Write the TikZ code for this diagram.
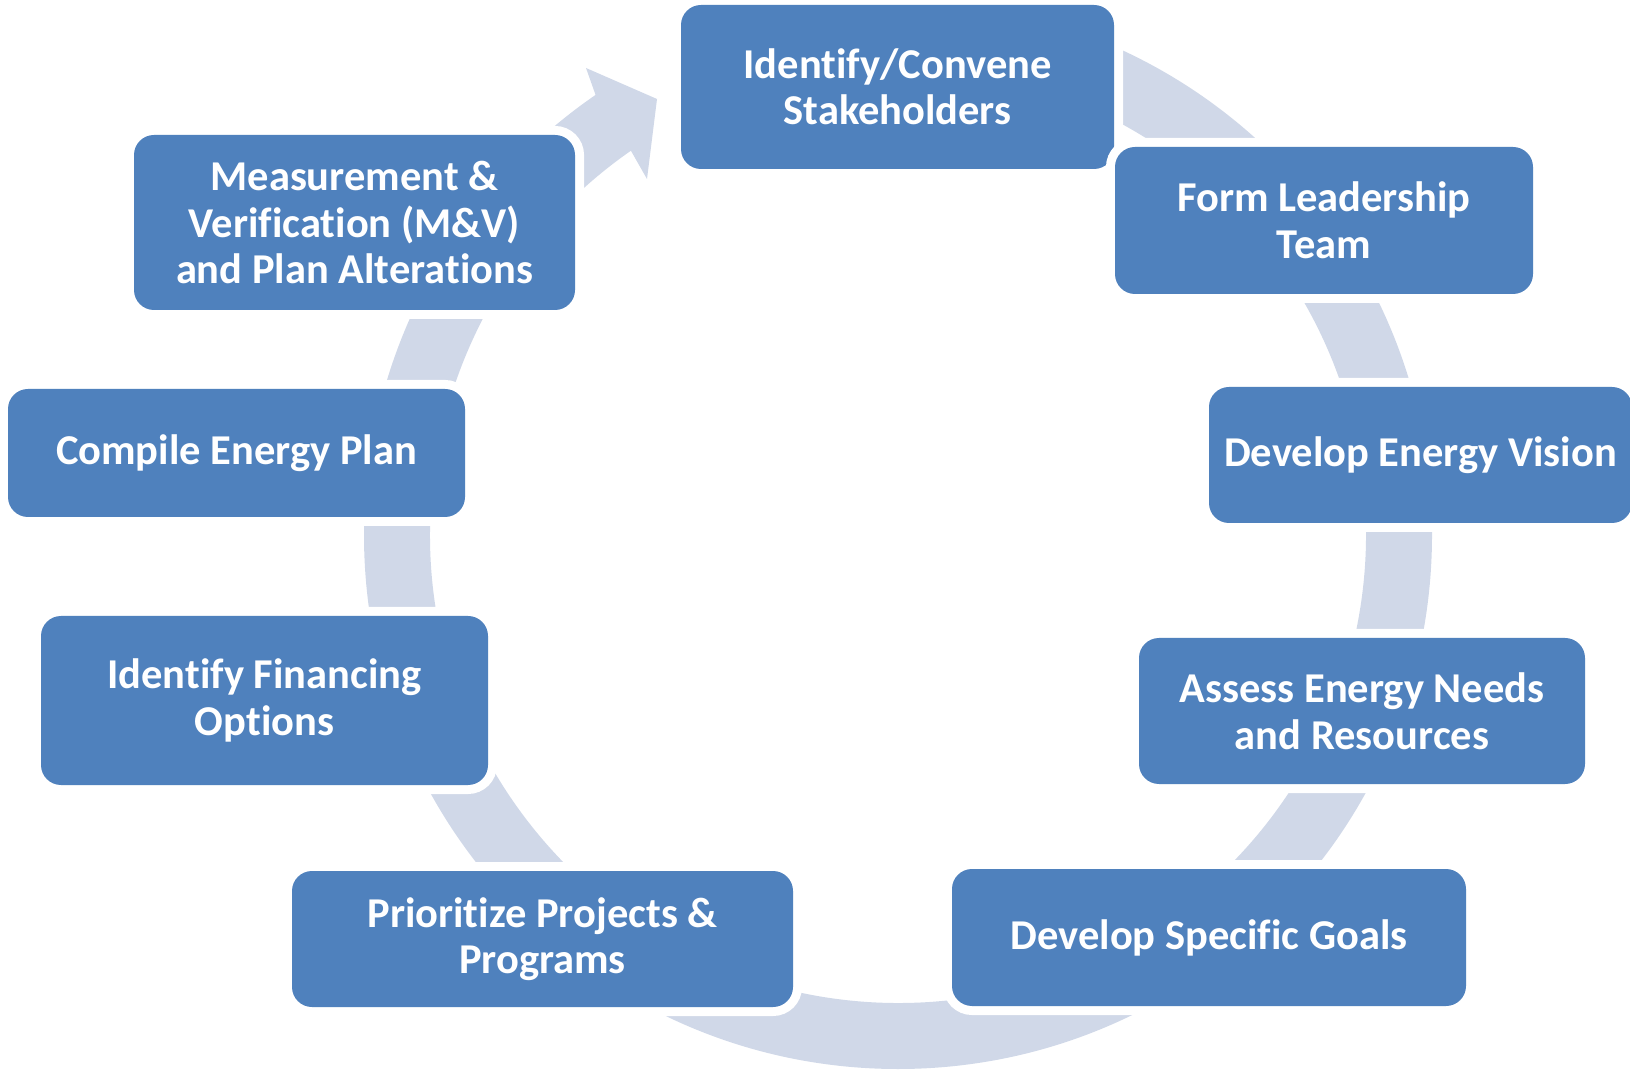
\documentclass[tikz,border=0pt]{standalone}
\usepackage{fontspec}
\setmainfont{Carlito}[Ligatures={NoCommon}, RawFeature={-liga;-clig;-dlig}]
\definecolor{boxblue}{HTML}{4F81BD}
\definecolor{bandgray}{HTML}{D0D8E8}
\begin{document}
\begin{tikzpicture}[x=1pt,y=1pt,
  stage/.style={rounded corners=20pt, fill=boxblue, text=white,
    preaction={draw=white, line width=18pt},
    inner sep=0pt, outer sep=0pt, align=center,
    font=\bfseries\fontsize{42.5}{46.5}\selectfont},
  band/.style={fill=bandgray}]
\useasboundingbox (0,0) rectangle (1630,1069);
\clip (0,0) rectangle (1630,1069);
% circular band with arrowhead
\coordinate (c) at (898,534);
\coordinate (tipA) at (586,1001);
\coordinate (tip) at (657,970);
\coordinate (tipB) at (647,890);
\fill[band] ([shift={(c)}]90:534) arc[start angle=90, end angle=-235.5, radius=534]
  -- (tipA) -- (tip) -- (tipB)
  -- ([shift={(c)}]-235.2:468) arc[start angle=-235.2, end angle=90, radius=468] -- cycle;
% stages
\node[stage, minimum width=433pt, minimum height=164pt] (s1) at (897.5,982) {Identify/Convene\\Stakeholders};
\node[stage, minimum width=418pt, minimum height=147pt] (s2) at (1324,848.5) {Form Leadership\\Team};
\node[stage, minimum width=423pt, minimum height=136pt] (s3) at (1420.5,614) {Develop Energy Vision};
\node[stage, minimum width=446pt, minimum height=146pt] (s4) at (1362,358) {Assess Energy Needs\\and Resources};
\node[stage, minimum width=514pt, minimum height=137pt] (s5) at (1209,131.5) {Develop Specific Goals};
\node[stage, minimum width=501pt, minimum height=136pt] (s6) at (542.5,130) {Prioritize Projects \&\\Programs};
\node[stage, minimum width=447pt, minimum height=169pt] (s7) at (264.5,368.5) {Identify Financing\\Options};
\node[stage, minimum width=457pt, minimum height=128pt] (s8) at (236.5,616) {Compile Energy Plan};
\node[stage, minimum width=441pt, minimum height=175pt] (s9) at (354.5,846.5) {Measurement \&\\Verification (M\&V)\\and Plan Alterations};
\end{tikzpicture}
\end{document}
